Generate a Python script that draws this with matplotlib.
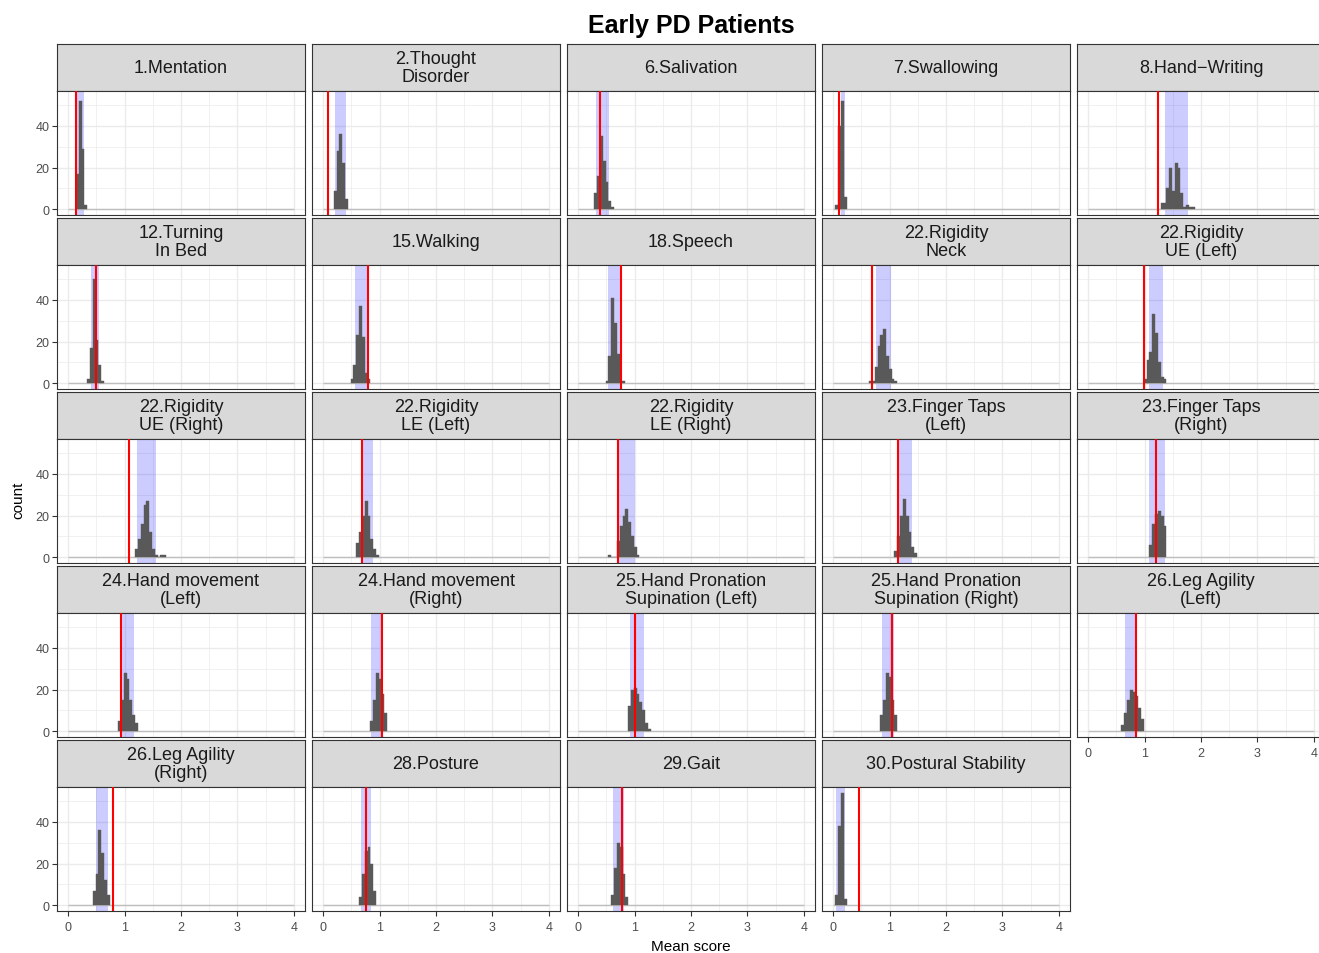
import numpy as np
import matplotlib
matplotlib.use("Agg")
import matplotlib.pyplot as plt

plt.rcParams['font.family'] = ['Liberation Sans', 'DejaVu Sans']

# facet labels, in panel order
titles = [
    "1.Mentation", "2.Thought\nDisorder", "6.Salivation", "7.Swallowing", "8.Hand\u2212Writing",
    "12.Turning\nIn Bed", "15.Walking", "18.Speech", "22.Rigidity\nNeck", "22.Rigidity\nUE (Left)",
    "22.Rigidity\nUE (Right)", "22.Rigidity\nLE (Left)", "22.Rigidity\nLE (Right)", "23.Finger Taps\n(Left)", "23.Finger Taps\n(Right)",
    "24.Hand movement\n(Left)", "24.Hand movement\n(Right)", "25.Hand Pronation\nSupination (Left)", "25.Hand Pronation\nSupination (Right)", "26.Leg Agility\n(Left)",
    "26.Leg Agility\n(Right)", "28.Posture", "29.Gait", "30.Postural Stability",
]

# observed mean score (red line)
observed = [0.14, 0.09, 0.39, 0.10, 1.23,
            0.49, 0.80, 0.75, 0.69, 0.98,
            1.07, 0.69, 0.71, 1.14, 1.21,
            0.94, 1.05, 1.01, 1.05, 0.85,
            0.80, 0.76, 0.78, 0.46]

# interval shown as blue band
band_lo = [0.14, 0.20, 0.32, 0.13, 1.36,
           0.40, 0.56, 0.53, 0.75, 1.07,
           1.22, 0.69, 0.71, 1.14, 1.07,
           0.94, 0.85, 0.92, 0.87, 0.65,
           0.50, 0.67, 0.62, 0.05]
band_hi = [0.28, 0.40, 0.54, 0.21, 1.77,
           0.55, 0.78, 0.74, 1.03, 1.33,
           1.56, 0.89, 1.01, 1.39, 1.37,
           1.17, 1.05, 1.17, 1.07, 0.84,
           0.71, 0.85, 0.82, 0.20]

# histogram: centre of first bin and counts per bin (bin width 0.05)
first_bin = [0.16, 0.21, 0.31, 0.06, 1.31,
             0.36, 0.51, 0.51, 0.66, 1.01,
             1.21, 0.61, 0.56, 1.11, 1.11,
             0.91, 0.86, 0.91, 0.86, 0.61,
             0.46, 0.66, 0.61, 0.06]
counts = [
    [17, 52, 29, 2],
    [9, 28, 36, 22, 5],
    [8, 16, 35, 23, 13, 4, 1],
    [2, 40, 52, 6],
    [3, 3, 10, 20, 9, 22, 20, 8, 1, 2, 1, 1],
    [2, 17, 50, 21, 9, 1],
    [2, 9, 23, 37, 22, 5, 2],
    [1, 13, 41, 29, 14, 1, 1],
    [1, 1, 8, 18, 23, 26, 13, 7, 2, 1],
    [2, 11, 15, 33, 24, 10, 3, 2],
    [4, 9, 16, 25, 27, 12, 4, 1, 0, 1, 1],
    [7, 12, 20, 27, 20, 9, 4, 1],
    [1, 0, 0, 8, 15, 20, 23, 17, 10, 5, 1],
    [3, 10, 20, 28, 20, 12, 5, 2],
    [6, 16, 21, 22, 20, 15],
    [5, 15, 28, 25, 15, 8, 4],
    [5, 15, 28, 25, 18, 9],
    [12, 20, 21, 18, 14, 10, 4, 1],
    [8, 15, 28, 26, 15, 8],
    [3, 9, 15, 20, 19, 17, 11, 6],
    [7, 15, 36, 25, 12, 5],
    [4, 15, 26, 28, 20, 7],
    [5, 18, 30, 28, 15, 4],
    [5, 38, 54, 3],
]
binwidth = 0.05
score_range = (0, 4)

W, H = 1319, 954
fig = plt.figure(figsize=(W / 100, H / 100), dpi=100)


def px_axes(x, y, w, h):
    return fig.add_axes([x / W, 1 - (y + h) / H, w / W, h / H])


ncol = 5
n = len(titles)
ymax = max(max(c) for c in counts)

for i in range(n):
    r, c = divmod(i, ncol)
    left = 57 + c * 255
    top = 45 + r * 174

    # strip
    st = px_axes(left, top, 248, 47)
    st.set_facecolor('#D9D9D9')
    st.set_xticks([])
    st.set_yticks([])
    for s in st.spines.values():
        s.set_color('#333333')
        s.set_linewidth(0.8)
    st.text(0.5, 0.5, titles[i], ha='center', va='center', fontsize=13,
            color='#1A1A1A', linespacing=1.1, transform=st.transAxes)

    ax = px_axes(left, top + 47, 248, 124)
    ax.set_xlim(-0.2, 4.2)
    ax.set_ylim(-0.05 * ymax, 1.05 * ymax)
    ax.set_xticks([0, 1, 2, 3, 4])
    ax.set_xticks([0.5, 1.5, 2.5, 3.5], minor=True)
    ax.set_yticks([0, 20, 40])
    ax.set_yticks([10, 30, 50], minor=True)
    ax.grid(which='major', color='#EBEBEB', lw=1.0)
    ax.grid(which='minor', color='#EBEBEB', lw=0.5)
    ax.set_axisbelow(True)
    for s in ax.spines.values():
        s.set_color('#333333')
        s.set_linewidth(0.8)

    ax.axvspan(band_lo[i], band_hi[i], color='blue', alpha=0.2, lw=0, zorder=1)
    ax.hlines(0, score_range[0], score_range[1], color='#BEBEBE', lw=1.0, zorder=1.5)
    centers = first_bin[i] + binwidth * np.arange(len(counts[i]))
    ax.bar(centers, counts[i], width=binwidth, color='#595959',
           edgecolor='#595959', lw=0.3, zorder=2)
    ax.axvline(observed[i], color='red', lw=1.5, zorder=3)

    ax.tick_params(which='major', length=3.5, width=0.8, color='#333333',
                   labelsize=9, labelcolor='#4D4D4D', pad=2)
    ax.tick_params(axis='x', which='major', pad=4)
    ax.tick_params(which='minor', length=0)
    if c != 0:
        ax.tick_params(axis='y', which='major', length=0, labelleft=False)
    if i + ncol < n:
        ax.tick_params(axis='x', which='major', length=0, labelbottom=False)

fig.text(691 / W, 1 - 26 / H, "Early PD Patients", ha='center', va='center',
         fontsize=18, fontweight='bold')
fig.text(691 / W, 1 - 947 / H, "Mean score", ha='center', va='center', fontsize=11)
fig.text(18 / W, 1 - 500 / H, "count", ha='center', va='center', fontsize=11, rotation=90)

fig.savefig("out.png", dpi=100)
